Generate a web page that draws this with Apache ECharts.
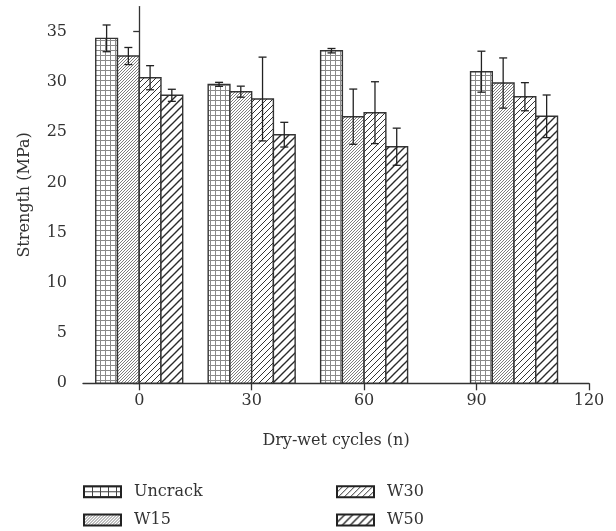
<!DOCTYPE html>
<html>
<head>
<meta charset="utf-8">
<script src="https://cdn.jsdelivr.net/npm/echarts@6/dist/echarts.min.js"></script>
<style>html,body{margin:0;padding:0;background:#fff}#c{width:616px;height:531px}</style>
</head>
<body>
<div id="c"></div>
<script>
// ---- data ----
const cycles = [0, 30, 60, 100];           // group positions on the x axis (as drawn)
const seriesNames = ['Uncrack', 'W15', 'W30', 'W50'];
const uncrack    = [34.34, 29.76, 33.11, 31.02];
const uncrackErr = [1.33, 0.2, 0.22, 2.04];
const w15        = [32.58, 29.03, 26.54, 29.89];
const w15Err     = [0.85, 0.55, 2.75, 2.5];
const w30        = [30.42, 28.30, 26.94, 28.53];
const w30Err     = [1.2, 4.17, 3.08, 1.4];
const w50        = [28.67, 24.75, 23.55, 26.58];
const w50Err     = [0.6, 1.23, 1.85, 2.12];
const xTicks = [0, 30, 60, 90, 120];
const yTicks = [0, 5, 10, 15, 20, 25, 30, 35];

const values = [uncrack, w15, w30, w50];
const errs = [uncrackErr, w15Err, w30Err, w50Err];

// ---- patterns ----
function gridPattern(cw, ch, color) {
  const c = document.createElement('canvas');
  c.width = cw; c.height = ch;
  const g = c.getContext('2d');
  g.fillStyle = '#fff'; g.fillRect(0, 0, cw, ch);
  g.strokeStyle = color; g.lineWidth = 1;
  g.beginPath();
  g.moveTo(0.5, 0); g.lineTo(0.5, ch);
  g.moveTo(0, 0.5); g.lineTo(cw, 0.5);
  g.stroke();
  return { image: c, repeat: 'repeat' };
}
function hatchPattern(s, color, lw) {
  const c = document.createElement('canvas');
  c.width = s; c.height = s;
  const g = c.getContext('2d');
  g.fillStyle = '#fff'; g.fillRect(0, 0, s, s);
  g.strokeStyle = color; g.lineWidth = lw; g.lineCap = 'butt';
  g.beginPath();
  g.moveTo(-1, s + 1); g.lineTo(s + 1, -1);
  g.moveTo(-s / 2, s / 2); g.lineTo(s / 2, -s / 2);
  g.moveTo(s / 2, s * 1.5); g.lineTo(s * 1.5, s / 2);
  g.stroke();
  return { image: c, repeat: 'repeat' };
}
const patterns = [
  gridPattern(5, 5, '#8a8a8a'),
  hatchPattern(3, '#6e6e6e', 0.9),
  hatchPattern(6, '#333', 1),
  hatchPattern(8, '#2a2a2a', 1.4)
];
const legendPatterns = [
  gridPattern(8, 5, '#444'),
  patterns[1], patterns[2], patterns[3]
];

const BAR_UNITS = 5.8;
const FONT = '"DejaVu Serif", "Liberation Serif", serif';

function renderItem(params, api) {
  const si = params.seriesIndex;
  const x = api.value(0), y = api.value(1), e = api.value(2);
  const cxv = x + (si - 1.5) * BAR_UNITS;
  const tl = api.coord([cxv - BAR_UNITS / 2, y]);
  const br = api.coord([cxv + BAR_UNITS / 2, 0]);
  const top = api.coord([cxv, y + e]);
  const bot = api.coord([cxv, y - e]);
  const cap = 4;
  return {
    type: 'group',
    children: [
      { type: 'rect',
        shape: { x: tl[0], y: tl[1], width: br[0] - tl[0], height: br[1] - tl[1] },
        style: { fill: patterns[si], stroke: '#333', lineWidth: 1.4 } },
      { type: 'line', shape: { x1: top[0], y1: top[1], x2: bot[0], y2: bot[1] },
        style: { stroke: '#222', lineWidth: 1.3 } },
      { type: 'line', shape: { x1: top[0] - cap, y1: top[1], x2: top[0] + cap, y2: top[1] },
        style: { stroke: '#222', lineWidth: 1.3 } },
      { type: 'line', shape: { x1: bot[0] - cap, y1: bot[1], x2: bot[0] + cap, y2: bot[1] },
        style: { stroke: '#222', lineWidth: 1.3 } }
    ]
  };
}

const series = seriesNames.map((name, i) => ({
  name, type: 'custom', renderItem,
  itemStyle: { color: legendPatterns[i], borderColor: '#222', borderWidth: 1.5 },
  encode: { x: 0, y: 1 },
  data: cycles.map((c, j) => [c, values[i][j], errs[i][j]])
}));

const legendText = { fontFamily: FONT, fontSize: 16, color: '#333', padding: [0, 0, 0, 8] };
const legendBase = { orient: 'vertical', top: 483.7, height: 47, padding: 0, icon: 'rect',
  itemWidth: 37, itemHeight: 11, itemGap: 12.3, textStyle: legendText };
const option = {
  animation: false,
  grid: { left: 83, right: 27, top: 6.6, bottom: 147.7, containLabel: false },
  legend: [
    Object.assign({ data: ['Uncrack', 'W15'], left: 83 }, legendBase),
    Object.assign({ data: ['W30', 'W50'], left: 336 }, legendBase)
  ],
  xAxis: {
    type: 'value', min: -15, max: 120,
    name: 'Dry-wet cycles (n)', nameLocation: 'middle', nameGap: 50,
    nameTextStyle: { fontFamily: FONT, fontSize: 16, color: '#333', verticalAlign: 'top' },
    axisLine: { show: true, lineStyle: { color: '#333', width: 1.3 } },
    axisTick: { show: true, length: 7, customValues: xTicks, lineStyle: { color: '#333', width: 1.3 } },
    axisLabel: { customValues: xTicks, margin: 10, fontFamily: FONT, fontSize: 16, color: '#333' },
    splitLine: { show: false }
  },
  yAxis: {
    type: 'value', min: 0, max: 37.5,
    name: 'Strength (MPa)', nameLocation: 'middle', nameGap: 50,
    nameTextStyle: { fontFamily: FONT, fontSize: 16, color: '#333' },
    axisLine: { show: true, lineStyle: { color: '#333', width: 1.3 } },
    axisTick: { show: true, length: 6, customValues: yTicks, lineStyle: { color: '#333', width: 1.3 } },
    axisLabel: { customValues: yTicks, margin: 16, fontFamily: FONT, fontSize: 16, color: '#333' },
    splitLine: { show: false }
  },
  series
};
const chart = echarts.init(document.getElementById('c'), null, { renderer: 'canvas' });
chart.setOption(option);
</script>
</body>
</html>
